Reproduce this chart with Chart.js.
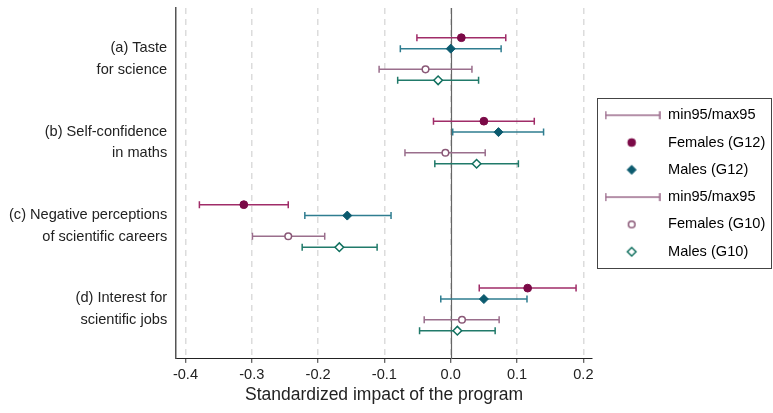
<!DOCTYPE html>
<html>
<head>
<meta charset="utf-8">
<script src="https://cdn.jsdelivr.net/npm/chart.js@4"></script>
<style>
  html, body { margin: 0; padding: 0; background: #fff; }
</style>
</head>
<body>
<canvas id="chart" width="773" height="413"></canvas>
<script>
// Outcomes (rows, top to bottom)
const categories = [
    ['(a) Taste', 'for science'],
    ['(b) Self-confidence', 'in maths'],
    ['(c) Negative perceptions', 'of scientific careers'],
    ['(d) Interest for', 'scientific jobs']
];

// Point estimates and 95% bounds, one value per outcome
const femalesG12   = [0.016, 0.050, -0.312, 0.116];
const femalesG12Lo = [-0.051, -0.026, -0.379, 0.043];
const femalesG12Hi = [0.083, 0.126, -0.245, 0.189];

const malesG12   = [0.000, 0.072, -0.156, 0.050];
const malesG12Lo = [-0.076, 0.003, -0.220, -0.015];
const malesG12Hi = [0.076, 0.140, -0.090, 0.115];

const femalesG10   = [-0.038, -0.008, -0.245, 0.017];
const femalesG10Lo = [-0.108, -0.069, -0.299, -0.040];
const femalesG10Hi = [0.032, 0.052, -0.190, 0.073];

const malesG10   = [-0.019, 0.039, -0.168, 0.010];
const malesG10Lo = [-0.080, -0.024, -0.224, -0.047];
const malesG10Hi = [0.042, 0.102, -0.111, 0.067];

const xTicks = [-0.4, -0.3, -0.2, -0.1, 0.0, 0.1, 0.2];

const FONT = 'Liberation Sans, Arial, sans-serif';

// Series: where each sits inside its row and how it looks
const series = [
    { label: 'Females (G12)', est: femalesG12, lo: femalesG12Lo, hi: femalesG12Hi, off: -0.255,
      style: 'circle', r: 3.9, fill: '#7b0a47', stroke: '#7b0a47', bw: 1, bar: '#a02c68' },
    { label: 'Males (G12)', est: malesG12, lo: malesG12Lo, hi: malesG12Hi, off: -0.124,
      style: 'rectRot', r: 4.5, fill: '#0b5a6e', stroke: '#0b5a6e', bw: 1, bar: '#2f7d90' },
    { label: 'Females (G10)', est: femalesG10, lo: femalesG10Lo, hi: femalesG10Hi, off: 0.124,
      style: 'circle', r: 3.3, fill: '#ffffff', stroke: '#8a5877', bw: 1.5, bar: '#9a6e8c' },
    { label: 'Males (G10)', est: malesG10, lo: malesG10Lo, hi: malesG10Hi, off: 0.255,
      style: 'rectRot', r: 4.3, fill: '#ffffff', stroke: '#11705f', bw: 1.5, bar: '#217a6a' }
];

const datasets = series.map(s => ({
    type: 'scatter',
    label: s.label,
    data: categories.map((c, i) => ({ x: s.est[i], y: i + s.off })),
    errLo: s.lo,
    errHi: s.hi,
    errOff: s.off,
    errColor: s.bar,
    pointStyle: s.style,
    pointRadius: s.r,
    pointBackgroundColor: s.fill,
    pointBorderColor: s.stroke,
    pointBorderWidth: s.bw
}));

// Legend icons
function makeIcon(draw) {
    const c = document.createElement('canvas');
    c.width = 56;
    c.height = 14;
    const g = c.getContext('2d');
    draw(g);
    return c;
}
const errIcon = () => makeIcon(g => {
    g.strokeStyle = '#9c6b8c';
    g.lineWidth = 1.5;
    g.beginPath();
    g.moveTo(1, 7); g.lineTo(55, 7);
    g.moveTo(1, 3); g.lineTo(1, 11);
    g.moveTo(55, 3); g.lineTo(55, 11);
    g.stroke();
});
const markerIcon = s => makeIcon(g => {
    g.fillStyle = s.fill;
    g.strokeStyle = s.stroke;
    g.lineWidth = s.bw;
    g.beginPath();
    if (s.style === 'circle') {
        g.arc(27, 7, s.r, 0, Math.PI * 2);
    } else {
        g.moveTo(27, 7 - s.r); g.lineTo(27 + s.r, 7);
        g.lineTo(27, 7 + s.r); g.lineTo(27 - s.r, 7);
        g.closePath();
    }
    g.fill();
    g.stroke();
});

const legendOrder = [
    { text: 'min95/max95', icon: errIcon() },
    { text: series[0].label, icon: markerIcon(series[0]) },
    { text: series[1].label, icon: markerIcon(series[1]) },
    { text: 'min95/max95', icon: errIcon() },
    { text: series[2].label, icon: markerIcon(series[2]) },
    { text: series[3].label, icon: markerIcon(series[3]) }
];

// Error bars + zero reference line
const errorBars = {
    id: 'errorBars',
    beforeDatasetsDraw(chart) {
        const { ctx, chartArea, scales: { x, y } } = chart;
        ctx.save();
        const x0 = Math.round(x.getPixelForValue(0)) + 0.5;
        ctx.strokeStyle = '#666';
        ctx.lineWidth = 1.2;
        ctx.beginPath();
        ctx.moveTo(x0, chartArea.top);
        ctx.lineTo(x0, chartArea.bottom);
        ctx.stroke();

        chart.data.datasets.forEach(ds => {
            ctx.strokeStyle = ds.errColor;
            ctx.lineWidth = 1.5;
            ds.errLo.forEach((lo, i) => {
                const py = y.getPixelForValue(i + ds.errOff);
                const a = x.getPixelForValue(lo);
                const b = x.getPixelForValue(ds.errHi[i]);
                ctx.beginPath();
                ctx.moveTo(a, py); ctx.lineTo(b, py);
                ctx.moveTo(a, py - 3.5); ctx.lineTo(a, py + 3.5);
                ctx.moveTo(b, py - 3.5); ctx.lineTo(b, py + 3.5);
                ctx.stroke();
            });
        });
        ctx.restore();
    }
};

// Frame around the legend
const legendFrame = {
    id: 'legendFrame',
    afterDraw(chart) {
        const hb = chart.legend && chart.legend.legendHitBoxes;
        if (!hb || !hb.length) return;
        const last = hb[hb.length - 1];
        const left = Math.round(hb[0].left - 8) + 0.5;
        const top = Math.round(hb[0].top - 10) + 0.5;
        const bottom = Math.round(last.top + last.height + 9) + 0.5;
        const right = 771.5;
        const ctx = chart.ctx;
        ctx.save();
        ctx.strokeStyle = '#444';
        ctx.lineWidth = 1;
        ctx.strokeRect(left, top, right - left, bottom - top);
        ctx.restore();
    }
};

new Chart(document.getElementById('chart'), {
    type: 'scatter',
    data: { datasets },
    plugins: [errorBars, legendFrame],
    options: {
        responsive: false,
        animation: false,
        layout: { padding: { left: 0, top: 8, right: -2.3, bottom: 0 } },
        scales: {
            x: {
                type: 'linear',
                min: -0.414,
                max: 0.213,
                afterBuildTicks: axis => { axis.ticks = xTicks.map(v => ({ value: v })); },
                ticks: {
                    color: '#222',
                    font: { family: FONT, size: 14.6 },
                    padding: 3,
                    callback: v => v.toFixed(1)
                },
                grid: {
                    color: '#dcdcdc',
                    lineWidth: 1.5,
                    tickBorderDash: [],
                    tickColor: '#333',
                    tickWidth: 1,
                    tickLength: 4
                },
                border: { display: true, color: '#222', width: 1, dash: [6, 5] },
                title: {
                    display: true,
                    text: 'Standardized impact of the program',
                    color: '#222',
                    font: { family: FONT, size: 17.5, lineHeight: 0.85 },
                    padding: { top: 1, bottom: 10.7 }
                }
            },
            y: {
                type: 'linear',
                reverse: true,
                min: -0.611,
                max: 3.593,
                afterBuildTicks: axis => { axis.ticks = categories.map((c, i) => ({ value: i })); },
                afterFit: axis => { axis.paddingTop = 0; axis.paddingBottom = 0; },
                ticks: {
                    color: '#222',
                    font: { family: FONT, size: 14.6, lineHeight: 1.5 },
                    padding: 9,
                    callback: v => categories[v]
                },
                grid: { display: false, drawTicks: false },
                border: { display: true, color: '#555', width: 1.5 }
            }
        },
        plugins: {
            tooltip: { enabled: false },
            legend: {
                position: 'right',
                fullSize: false,
                align: 'center',
                labels: {
                    usePointStyle: true,
                    pointStyleWidth: 56,
                    padding: 12.7,
                    color: '#222',
                    font: { family: FONT, size: 14.6 },
                    generateLabels: () => legendOrder.map((it, i) => ({
                        text: it.text,
                        pointStyle: it.icon,
                        fillStyle: '#fff',
                        strokeStyle: '#fff',
                        lineWidth: 0,
                        hidden: false,
                        index: i
                    }))
                }
            }
        }
    }
});
</script>
</body>
</html>
